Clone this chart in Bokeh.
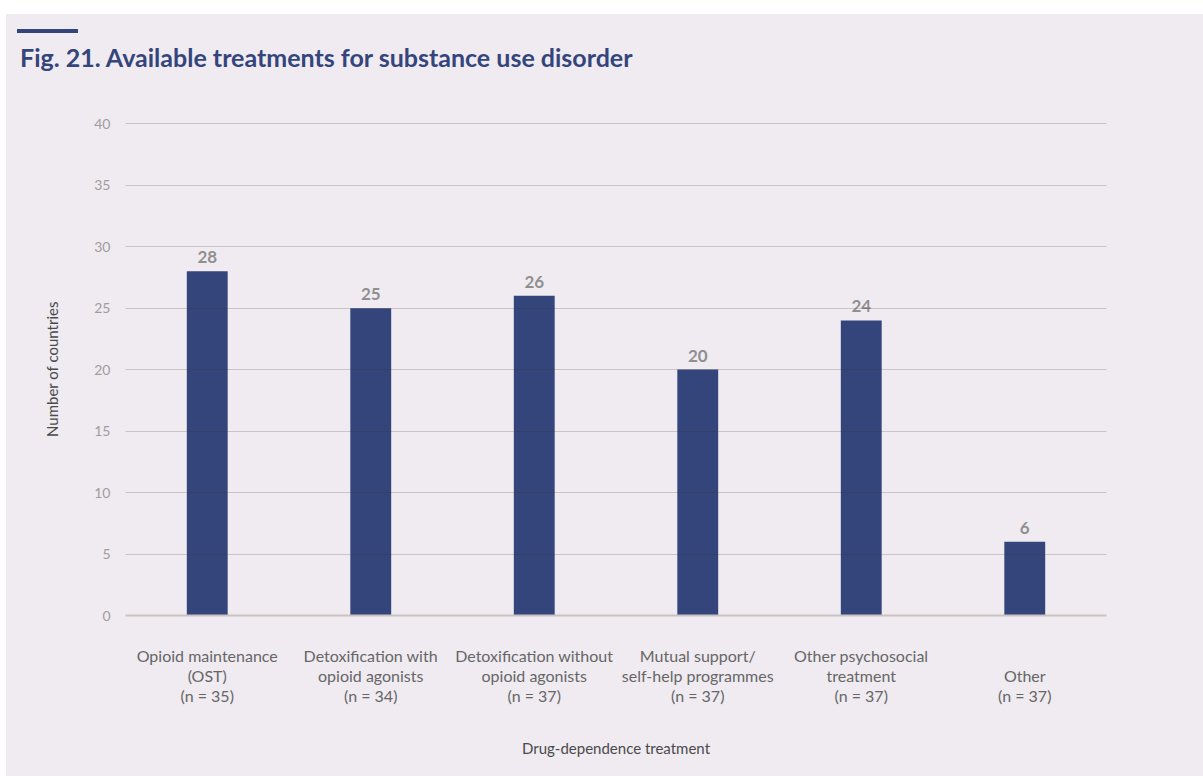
from bokeh.plotting import figure
from bokeh.layouts import column
from bokeh.models import ColumnDataSource, LabelSet, Div
from bokeh.core.properties import value
from bokeh.embed import file_html
from bokeh.resources import INLINE

# Treatment categories (tick labels) and number of countries offering each
categories = [
    "Opioid maintenance\n(OST)\n(n = 35)",
    "Detoxification with\nopioid agonists\n(n = 34)",
    "Detoxification without\nopioid agonists\n(n = 37)",
    "Mutual support/\nself-help programmes\n(n = 37)",
    "Other psychosocial\ntreatment\n(n = 37)",
    "\nOther\n(n = 37)",
]
counts = [28, 25, 26, 20, 24, 6]
y_ticks = [0, 5, 10, 15, 20, 25, 30, 35, 40]

title_text = "Fig. 21. Available treatments for substance use disorder"
x_label = "Drug-dependence treatment"
y_label = "Number of countries"

NAVY = "#34457c"
BG = "#efebf1"
FONT = "Lato"

source = ColumnDataSource(dict(
    cat=categories,
    count=counts,
    label=[str(c) for c in counts],
))

# Heading block: short accent rule with the figure title below it
header = Div(
    text=(
        f'<div style="position:absolute;left:11px;top:15px;width:61px;'
        f'height:4px;background:{NAVY};"></div>'
        f'<div style="position:absolute;left:14px;top:31px;white-space:nowrap;'
        f'font-family:{FONT};font-weight:bold;font-size:25px;line-height:25px;'
        f'color:{NAVY};">{title_text}</div>'
    ),
    width=1197, height=90, margin=0,
    styles={"background-color": BG, "position": "relative"},
)

p = figure(
    x_range=categories,
    y_range=(0, 40.1),
    width=1197,
    height=672,
    output_backend="svg",
    toolbar_location=None,
    min_border_left=119,
    min_border_right=97,
    min_border_top=18,
    min_border_bottom=161,
    background_fill_color=BG,
    border_fill_color=BG,
    outline_line_color=None,
    margin=0,
)

p.vbar(x="cat", top="count", width=0.25, source=source,
       fill_color=NAVY, line_color=None)

p.add_layout(LabelSet(
    x="cat", y="count", text="label", source=source,
    y_offset=8, text_align="center", text_baseline="bottom",
    text_font=value(FONT), text_font_size="17px", text_font_style="bold",
    text_color="#8f8f8f",
))

# Gridlines drawn over the bars, semi-transparent
p.xgrid.visible = False
p.ygrid.ticker = y_ticks
p.ygrid.level = "overlay"
p.ygrid.grid_line_color = "#3a2a20"
p.ygrid.grid_line_alpha = 0.2
p.ygrid.grid_line_width = 1

p.yaxis.ticker = y_ticks
p.yaxis.axis_line_color = None
p.yaxis.major_tick_line_color = None
p.yaxis.minor_tick_line_color = None
p.yaxis.major_label_text_font = FONT
p.yaxis.major_label_text_font_size = "14px"
p.yaxis.major_label_text_color = "#a29c9c"
p.yaxis.major_label_standoff = 9
p.yaxis.axis_label = y_label
p.yaxis.axis_label_text_font = FONT
p.yaxis.axis_label_text_font_size = "15px"
p.yaxis.axis_label_text_font_style = "normal"
p.yaxis.axis_label_text_color = "#4a4a4a"
p.yaxis.axis_label_standoff = 30

p.xaxis.axis_line_color = "#cbc3c2"
p.xaxis.axis_line_width = 2
p.xaxis.major_tick_line_color = None
p.xaxis.minor_tick_line_color = None
p.xaxis.major_label_text_font = FONT
p.xaxis.major_label_text_font_size = "16px"
p.xaxis.major_label_text_color = "#666666"
p.xaxis.major_label_text_line_height = 1.07
p.xaxis.major_label_standoff = 24
p.xaxis.axis_label = x_label
p.xaxis.axis_label_text_font = FONT
p.xaxis.axis_label_text_font_size = "15px"
p.xaxis.axis_label_text_font_style = "normal"
p.xaxis.axis_label_text_color = "#4a4a4a"
p.xaxis.axis_label_standoff = 31

layout = column(header, p, margin=(14, 0, 0, 6), spacing=0,
                styles={"background-color": BG})

open("out.html", "w").write(file_html(layout, INLINE))
